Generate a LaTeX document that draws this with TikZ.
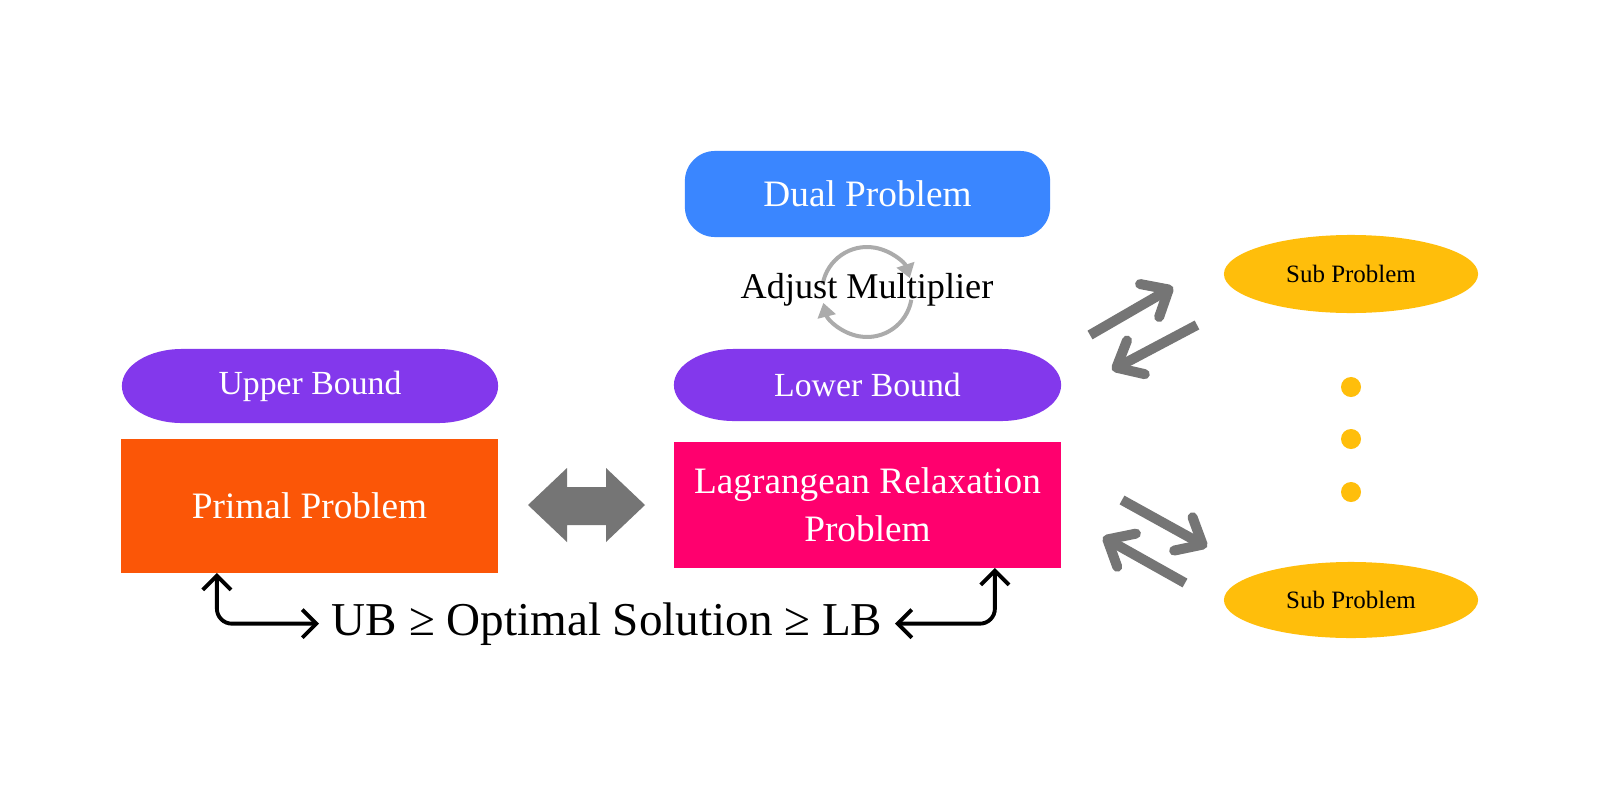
\documentclass[tikz,border=0pt]{standalone}
\usepackage{fontspec}
\setmainfont{Liberation Serif}
\usetikzlibrary{arrows.meta,calc,shapes.geometric,backgrounds}
\definecolor{cblue}{HTML}{3A86FF}
\definecolor{cpurple}{HTML}{8338EC}
\definecolor{corange}{HTML}{FB5607}
\definecolor{cpink}{HTML}{FF006E}
\definecolor{cyellow}{HTML}{FFBE0B}
\definecolor{cgray}{HTML}{757575}
\definecolor{clight}{HTML}{ABABAB}
\begin{document}
\begin{tikzpicture}[x=0.01cm,y=-0.01cm,
  lbl/.style={text=white,font=\fontsize{10.6}{13.7}\selectfont,align=center,inner sep=0pt,outer sep=0pt},
  bnd/.style={text=white,font=\fontsize{9.6}{12}\selectfont,inner sep=0pt,outer sep=0pt,minimum height=0.74cm},
  subp/.style={ellipse,fill=cyellow,inner sep=0pt,minimum width=2.54cm,minimum height=0.78cm,font=\fontsize{7.1}{9}\selectfont},
  dot/.style={circle,fill=cyellow,inner sep=0pt,minimum size=0.2cm},
  garrow/.style={cgray,line width=0.1cm,-{Straight Barb[round,length=0.22cm,width=0.38cm]}},
  blkarrow/.style={black,line width=1.1pt,rounded corners=0.15cm,{Straight Barb[length=4pt,width=8pt]}-{Straight Barb[length=4pt,width=8pt]}},
  cyc/.style={clight,line width=0.04cm,-{Triangle[length=0.14cm,width=0.18cm]}}
]
% Dual problem
\node[lbl,fill=cblue,rounded corners=0.3cm,minimum width=3.65cm,minimum height=0.86cm] (dual) at (867.5,194) {Dual Problem};

% cycle icon
\coordinate (cc) at (867,292);
\draw[cyc] ([shift={(190:45)}]cc) arc[start angle=190,end angle=342,radius=45];
\draw[cyc] ([shift={(10:45)}]cc) arc[start angle=10,end angle=166,radius=45];
\node[font=\fontsize{10.3}{12}\selectfont,inner sep=0pt] (adj) at (867,290) {Adjust Multiplier};

% bounds
\node[bnd,minimum width=3.76cm] (ub) at (310,386) {Upper Bound};
\node[bnd,minimum width=3.87cm,minimum height=0.72cm] (lb) at (867.5,385) {Lower Bound};

% problems
\node[lbl,fill=corange,minimum width=3.77cm,minimum height=1.34cm] (primal) at (309.5,506) {Primal Problem};
\node[lbl,fill=cpink,minimum width=3.87cm,minimum height=1.26cm] (lag) at (867.5,505) {Lagrangean Relaxation\\Problem};

% double block arrow
\fill[cgray] (528,505) -- (567,468) -- (567,487) -- (606,487) -- (606,468) -- (645,505)
  -- (606,542) -- (606,525) -- (567,525) -- (567,542) -- cycle;

% sub problems
\node[subp] (sp1) at (1351,274) {Sub Problem};
\node[subp,minimum height=0.76cm] (sp2) at (1351,600) {Sub Problem};
\node[dot] (d1) at (1351,387) {};
\node[dot] (d2) at (1351,439) {};
\node[dot] (d3) at (1351,492) {};

% thick gray arrows
\coordinate (a1s) at (1090,335); \coordinate (a1e) at (1173,287);
\coordinate (a2s) at (1197,325); \coordinate (a2e) at (1112,370);
\coordinate (a3s) at (1122,500); \coordinate (a3e) at (1207,547);
\coordinate (a4s) at (1185,583); \coordinate (a4e) at (1103,537);
\draw[garrow] (a1s) -- (a1e);
\draw[garrow] (a2s) -- (a2e);
\draw[garrow] (a3s) -- (a3e);
\draw[garrow] (a4s) -- (a4e);

% bottom relation
\node[font=\fontsize{13.4}{16}\selectfont,anchor=base,inner xsep=0.12cm,inner ysep=0pt] (eq) at (607,635) {UB ≥ Optimal Solution ≥ LB};
\draw[blkarrow] ($(primal.south west)+(96,0)$) |- (eq.west);
\draw[blkarrow] ($(lag.south west)+(321,0)$) |- (eq.east);

% background shapes
\begin{scope}[on background layer]
\fill[white] (0,0) rectangle (1600,800);
\fill[cpurple] ([xshift=0.6cm]ub.north west) -- ([xshift=-0.6cm]ub.north east)
  arc[start angle=90,end angle=-90,x radius=0.6cm,y radius=0.37cm]
  -- ([xshift=0.6cm]ub.south west)
  arc[start angle=270,end angle=90,x radius=0.6cm,y radius=0.37cm] -- cycle;
\fill[cpurple] ([xshift=0.6cm]lb.north west) -- ([xshift=-0.6cm]lb.north east)
  arc[start angle=90,end angle=-90,x radius=0.6cm,y radius=0.36cm]
  -- ([xshift=0.6cm]lb.south west)
  arc[start angle=270,end angle=90,x radius=0.6cm,y radius=0.36cm] -- cycle;
\end{scope}
\useasboundingbox (0,0) rectangle (1600,800);
\end{tikzpicture}
\end{document}
